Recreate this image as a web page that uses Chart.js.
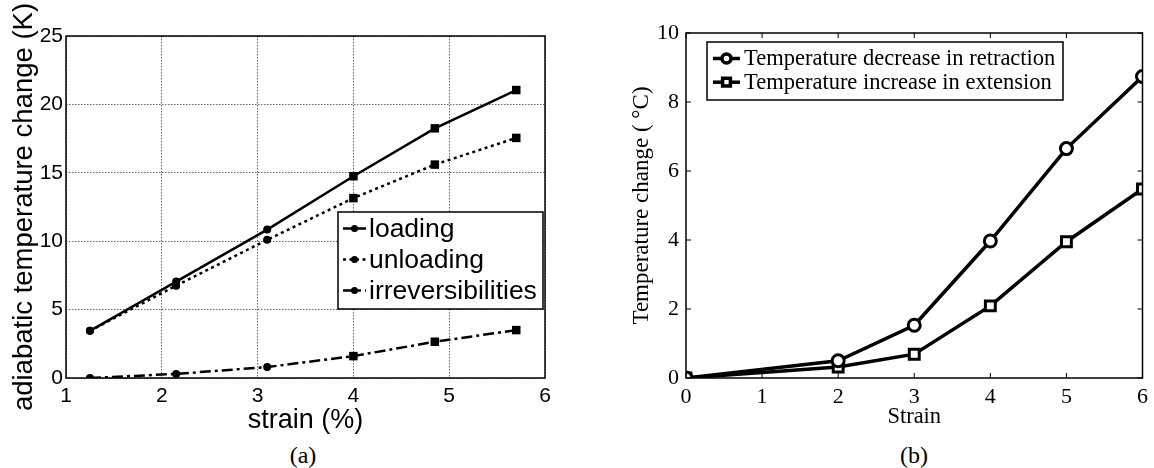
<!DOCTYPE html>
<html>
<head>
<meta charset="utf-8">
<script src="https://cdn.jsdelivr.net/npm/chart.js@4.4.1/dist/chart.umd.min.js"></script>
<style>
  html, body { margin: 0; padding: 0; background: #fff; }
  #wrap { position: relative; width: 1154px; height: 468px; overflow: hidden; }
  .panel { position: absolute; top: 0; width: 577px; height: 440px; }
  .cap { position: absolute; top: 442px; height: 28px; line-height: 28px; width: 80px;
         text-align: center; font: 24px "Liberation Serif", serif; color: #000; }
</style>
</head>
<body>
<div id="wrap">
  <div class="panel" style="left:0"><canvas id="chartA"></canvas></div>
  <div class="panel" style="left:577px"><canvas id="chartB"></canvas></div>
  <div class="cap" style="left:263px">(a)</div>
  <div class="cap" style="left:874px">(b)</div>
</div>
<script>
// panel (a)
const strainA = [1.25, 2.15, 3.1, 4.0, 4.85, 5.7];
const loading = [3.45, 7.05, 10.85, 14.75, 18.25, 21.05];
const unloading = [3.45, 6.75, 10.1, 13.15, 15.6, 17.55];
const irreversibilities = [0.0, 0.3, 0.8, 1.6, 2.65, 3.5];
const labelsA = ['loading', 'unloading', 'irreversibilities'];

// panel (b)
const strainB = [0, 2, 3, 4, 5, 6];
const retraction = [0, 0.5, 1.53, 3.97, 6.65, 8.74];
const extension = [0, 0.32, 0.69, 2.09, 3.95, 5.48];
const labelsB = ['Temperature decrease in retraction', 'Temperature increase in extension'];

const toPoints = (xs, ys) => xs.map((x, i) => ({ x, y: ys[i] }));

// legend box drawn inside the plot area
const boxLegend = {
  id: 'boxLegend',
  afterDraw(chart, args, o) {
    if (!o || !o.box) return;
    const { ctx, chartArea: a } = chart;
    const x0 = a.left + o.box[0], y0 = a.top + o.box[1];
    ctx.save();
    ctx.fillStyle = '#fff';
    ctx.fillRect(x0, y0, o.box[2], o.box[3]);
    ctx.strokeStyle = '#000';
    ctx.lineWidth = 1.5;
    ctx.strokeRect(x0, y0, o.box[2], o.box[3]);
    chart.data.datasets.forEach((ds, i) => {
      const y = y0 + o.firstRow + i * o.rowGap;
      ctx.strokeStyle = '#000';
      ctx.lineWidth = ds.borderWidth;
      ctx.setLineDash(ds.borderDash || []);
      ctx.beginPath();
      ctx.moveTo(x0 + o.sample[0], y);
      ctx.lineTo(x0 + o.sample[1], y);
      ctx.stroke();
      ctx.setLineDash([]);
      ctx.fillStyle = o.markerFill;
      Chart.helpers.drawPoint(ctx, {
        pointStyle: o.markerStyle[i], radius: o.markerRadius[i],
        borderWidth: o.markerBorder, rotation: 0
      }, x0 + (o.sample[0] + o.sample[1]) / 2, y);
      ctx.fillStyle = '#000';
      ctx.font = o.font;
      ctx.textBaseline = 'middle';
      ctx.textAlign = 'left';
      ctx.fillText(ds.label, x0 + o.textX, y + 1);
    });
    ctx.restore();
  }
};

// box around the plot, with optional inward tick marks
const frame = {
  id: 'frame',
  afterDatasetsDraw(chart, args, o) {
    const { ctx, chartArea: a, scales } = chart;
    ctx.save();
    ctx.strokeStyle = '#000';
    ctx.lineWidth = o.width || 1.5;
    ctx.strokeRect(a.left, a.top, a.right - a.left, a.bottom - a.top);
    if (o.ticks) {
      ctx.lineWidth = 1;
      ctx.beginPath();
      scales.x.ticks.forEach(t => {
        const px = scales.x.getPixelForValue(t.value);
        ctx.moveTo(px, a.bottom); ctx.lineTo(px, a.bottom - o.ticks);
        ctx.moveTo(px, a.top); ctx.lineTo(px, a.top + o.ticks);
      });
      scales.y.ticks.forEach(t => {
        const py = scales.y.getPixelForValue(t.value);
        ctx.moveTo(a.left, py); ctx.lineTo(a.left + o.ticks, py);
        ctx.moveTo(a.right, py); ctx.lineTo(a.right - o.ticks, py);
      });
      ctx.stroke();
    }
    ctx.restore();
  }
};

const sansA = '"Liberation Sans", Arial, sans-serif';
const serifB = '"Liberation Serif", "Times New Roman", serif';

const markA = c => (c.dataIndex < 3 ? 'circle' : 'rect');
const sizeA = c => (c.dataIndex < 3 ? 4 : 6);

new Chart(document.getElementById('chartA'), {
  type: 'line',
  data: {
    datasets: [
      { label: labelsA[0], data: toPoints(strainA, loading), borderDash: [] },
      { label: labelsA[1], data: toPoints(strainA, unloading), borderDash: [3, 3.5] },
      { label: labelsA[2], data: toPoints(strainA, irreversibilities), borderDash: [11, 4, 3, 4] }
    ].map(ds => Object.assign(ds, {
      borderColor: '#000', backgroundColor: '#000', borderWidth: 2.5,
      pointStyle: markA, pointRadius: sizeA, pointBorderWidth: 0,
      pointBackgroundColor: '#000', tension: 0
    }))
  },
  options: {
    responsive: true,
    maintainAspectRatio: false,
    animation: false,
    layout: { padding: { top: 36, right: 32, left: 0, bottom: 0 } },
    plugins: {
      legend: { display: false },
      tooltip: { enabled: false },
      boxLegend: {
        box: [272, 176, 205, 97], firstRow: 16.5, rowGap: 31,
        sample: [5, 28], textX: 31, font: '26.5px ' + sansA,
        markerStyle: ['circle', 'circle', 'circle'], markerRadius: [3.5, 3.5, 3.5],
        markerBorder: 0, markerFill: '#000'
      },
      frame: { width: 1.5 }
    },
    scales: {
      x: {
        type: 'linear', min: 1, max: 6,
        ticks: { stepSize: 1, color: '#000', padding: 6, font: { family: sansA, size: 21 } },
        grid: { color: '#666', lineWidth: 1, drawTicks: false },
        border: { display: false, dash: [1.5, 1.5] },
        title: { display: true, text: 'strain (%)', color: '#000',
                 font: { family: sansA, size: 27 }, padding: { bottom: 3 } },
        afterFit: s => { s.height = 62; }
      },
      y: {
        min: 0, max: 25,
        ticks: { stepSize: 5, color: '#000', padding: 3, font: { family: sansA, size: 21 } },
        grid: { color: '#666', lineWidth: 1, drawTicks: false },
        border: { display: false, dash: [1.5, 1.5] },
        title: { display: true, text: 'adiabatic temperature change (K)', color: '#000',
                 font: { family: sansA, size: 27.5 }, padding: { top: 8 } },
        afterFit: s => { s.width = 66; }
      }
    }
  },
  plugins: [boxLegend, frame]
});

new Chart(document.getElementById('chartB'), {
  type: 'line',
  data: {
    datasets: [
      { label: labelsB[0], data: toPoints(strainB, retraction), pointStyle: 'circle', pointRadius: 6 },
      { label: labelsB[1], data: toPoints(strainB, extension), pointStyle: 'rect', pointRadius: 7 }
    ].map(ds => Object.assign(ds, {
      borderColor: '#000', backgroundColor: '#fff', borderWidth: 3.5,
      pointBorderWidth: 3, pointBorderColor: '#000', pointBackgroundColor: '#fff', tension: 0
    }))
  },
  options: {
    responsive: true,
    maintainAspectRatio: false,
    animation: false,
    layout: { padding: { top: 33, right: 8, left: 0, bottom: 0 } },
    plugins: {
      legend: { display: false },
      tooltip: { enabled: false },
      boxLegend: {
        box: [21, 9, 356, 58], firstRow: 16.5, rowGap: 23.7,
        sample: [6, 33], textX: 37, font: '22.5px ' + serifB,
        markerStyle: ['circle', 'rect'], markerRadius: [4.5, 5.5],
        markerBorder: 2.5, markerFill: '#fff'
      },
      frame: { width: 1.5, ticks: 5 }
    },
    scales: {
      x: {
        type: 'linear', min: 0, max: 6,
        ticks: { stepSize: 1, color: '#000', padding: 6, font: { family: serifB, size: 22 } },
        grid: { display: false, drawTicks: false },
        border: { display: false },
        title: { display: true, text: 'Strain', color: '#000',
                 font: { family: serifB, size: 22.5 }, padding: { bottom: 9 } },
        afterFit: s => { s.height = 62; }
      },
      y: {
        min: 0, max: 10,
        ticks: { stepSize: 2, color: '#000', padding: 7, font: { family: serifB, size: 22 } },
        grid: { display: false, drawTicks: false },
        border: { display: false },
        title: { display: true, text: 'Temperature change ( °C)', color: '#000',
                 font: { family: serifB, size: 23 }, padding: { top: 51 } },
        afterFit: s => { s.width = 109; }
      }
    }
  },
  plugins: [boxLegend, frame]
});
</script>
</body>
</html>
